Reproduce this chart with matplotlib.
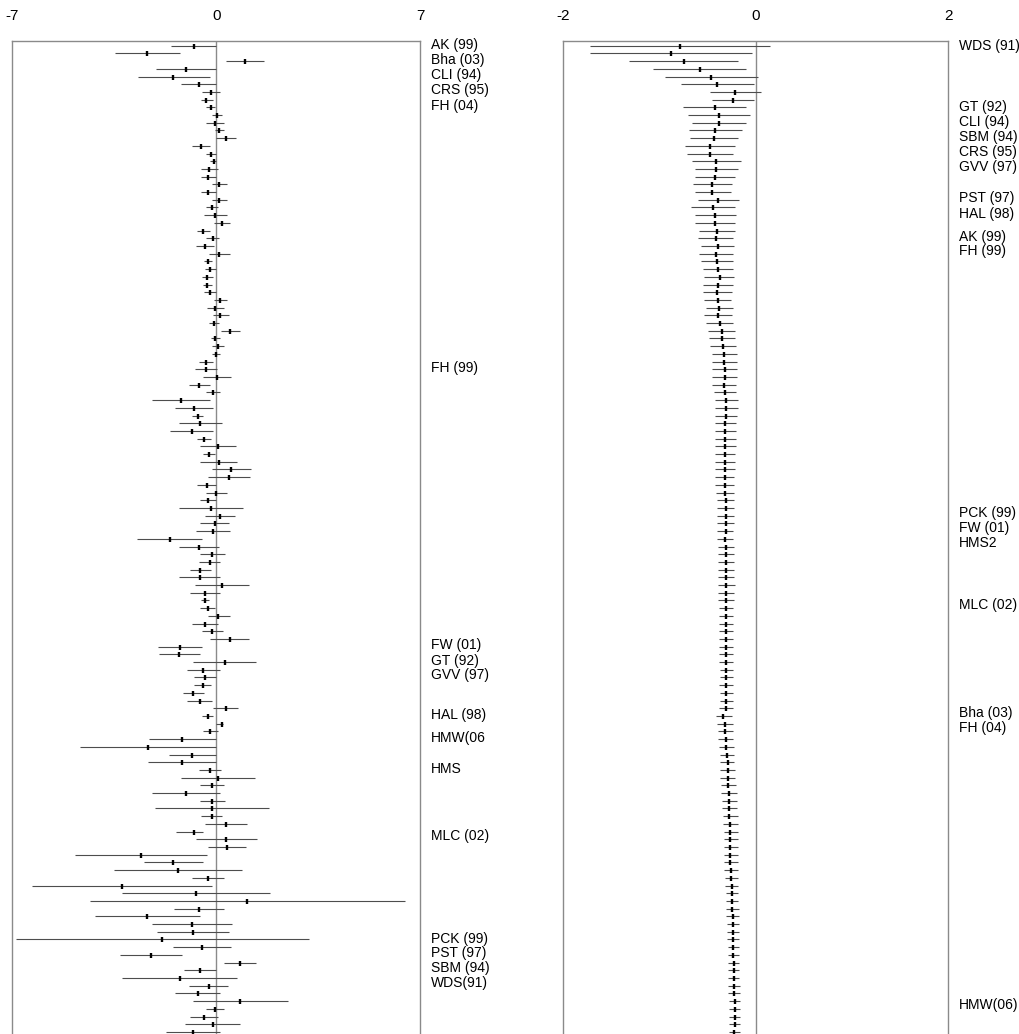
import matplotlib
import matplotlib.pyplot as plt
import numpy as np

matplotlib.use("Agg")

plt.rcParams.update({
    "font.family": ["Liberation Sans", "DejaVu Sans"],
    "figure.facecolor": "white",
    "axes.facecolor": "white",
})

# ---- left panel: per-row estimate with lower / upper limit ----
left_est = [
    -0.78, -2.39, 0.97, -1.05, -1.48, -0.59, -0.19, -0.34, -0.17, 0.02,
    -0.05, 0.08, 0.34, -0.54, -0.18, -0.09, -0.24, -0.27, 0.09, -0.27,
    0.08, -0.15, -0.03, 0.21, -0.45, -0.13, -0.40, 0.09, -0.29, -0.21,
    -0.31, -0.31, -0.23, 0.11, -0.05, 0.14, -0.09, 0.48, -0.05, 0.05,
    0.00, -0.37, -0.35, 0.02, -0.58, -0.11, -1.21, -0.78, -0.64, -0.55,
    -0.85, -0.43, 0.06, -0.26, 0.08, 0.51, 0.43, -0.33, 0.00, -0.30,
    -0.19, 0.13, -0.06, -0.11, -1.60, -0.59, -0.14, -0.23, -0.56, -0.57,
    0.19, -0.40, -0.38, -0.30, 0.07, -0.38, -0.14, 0.46, -1.25, -1.28,
    0.29, -0.45, -0.40, -0.47, -0.79, -0.57, 0.32, -0.30, 0.19, -0.21,
    -1.17, -2.34, -0.82, -1.18, -0.21, 0.05, -0.15, -1.04, -0.14, -0.16,
    -0.16, 0.33, -0.75, 0.34, 0.35, -2.58, -1.49, -1.32, -0.30, -3.25,
    -0.70, 1.06, -0.61, -2.37, -0.83, -0.80, -1.85, -0.49, -2.23, 0.80,
    -0.56, -1.26, -0.26, -0.64, 0.82, -0.05, -0.41, -0.13, -0.79,
]
left_lo = [
    -1.54, -3.49, 0.32, -2.08, -2.69, -1.20, -0.49, -0.54, -0.34, -0.14,
    -0.34, -0.06, 0.00, -0.83, -0.34, -0.21, -0.51, -0.53, -0.16, -0.51,
    -0.16, -0.35, -0.42, -0.08, -0.67, -0.34, -0.71, -0.26, -0.43, -0.40,
    -0.50, -0.46, -0.43, -0.09, -0.32, -0.13, -0.26, 0.16, -0.19, -0.16,
    -0.14, -0.61, -0.74, -0.46, -0.94, -0.34, -2.20, -1.43, -0.85, -1.29,
    -1.59, -0.67, -0.56, -0.47, -0.55, -0.16, -0.29, -0.65, -0.37, -0.57,
    -1.28, -0.39, -0.55, -0.69, -2.71, -1.27, -0.57, -0.58, -0.91, -1.28,
    -0.74, -0.91, -0.51, -0.55, -0.30, -0.82, -0.50, -0.21, -2.01, -1.98,
    -0.80, -1.01, -0.78, -0.77, -1.14, -1.02, -0.11, -0.48, 0.00, -0.46,
    -2.32, -4.69, -1.62, -2.36, -0.59, -1.22, -0.57, -2.20, -0.57, -2.12,
    -0.53, -0.39, -1.40, -0.69, -0.30, -4.84, -2.49, -3.51, -0.85, -6.32,
    -3.24, -4.32, -1.45, -4.16, -2.20, -2.05, -6.86, -1.48, -3.30, 0.25,
    -1.12, -3.24, -0.93, -1.41, -0.80, -0.35, -0.89, -1.06, -1.74,
]
left_hi = [
    0.00, -1.26, 1.62, 0.00, -0.21, 0.00, 0.11, -0.11, -0.06, 0.21,
    0.25, 0.25, 0.66, -0.21, -0.02, 0.00, 0.05, -0.02, 0.35, -0.02,
    0.35, 0.07, 0.35, 0.46, -0.21, 0.09, -0.09, 0.48, -0.14, 0.00,
    -0.11, -0.15, -0.02, 0.37, 0.25, 0.42, 0.08, 0.80, 0.11, 0.26,
    0.11, -0.11, 0.02, 0.51, -0.23, 0.14, -0.23, -0.11, -0.45, 0.19,
    -0.11, -0.18, 0.67, -0.06, 0.71, 1.20, 1.14, -0.02, 0.38, -0.02,
    0.90, 0.65, 0.45, 0.46, -0.49, 0.08, 0.30, 0.13, -0.19, 0.13,
    1.12, 0.13, -0.25, -0.05, 0.46, 0.07, 0.23, 1.11, -0.48, -0.57,
    1.37, 0.11, 0.00, -0.18, -0.41, -0.14, 0.75, -0.11, 0.23, 0.06,
    0.00, 0.00, 0.00, 0.00, 0.17, 1.33, 0.26, 0.11, 0.31, 1.80,
    0.21, 1.05, -0.46, 1.38, 1.01, -0.32, -0.47, 0.87, 0.25, -0.16,
    1.85, 6.46, 0.25, -0.57, 0.53, 0.45, 3.18, 0.50, -1.17, 1.35,
    0.00, 0.70, 0.39, 0.13, 2.45, 0.25, 0.07, 0.82, 0.14,
]
left_labels = ["AK (99)", "Bha (03)", "CLI (94)", "CRS (95)", "FH (04)", "FH (99)",
               "FW (01)", "GT (92)", "GVV (97)", "HAL (98)", "HMW(06", "HMS",
               "MLC (02)", "PCK (99)", "PST (97)", "SBM (94)", "WDS(91)"]
left_label_rows = [-0.1, 1.8, 3.8, 5.8, 7.8, 41.8, 77.8, 79.8, 81.7, 86.9, 89.8,
                   93.9, 102.6, 115.9, 117.8, 119.7, 121.6]

# ---- right panel: sorted estimates ----
right_est = [
    -0.786, -0.876, -0.748, -0.582, -0.464, -0.398, -0.211, -0.239, -0.429, -0.381,
    -0.384, -0.423, -0.436, -0.474, -0.478, -0.416, -0.412, -0.423, -0.457, -0.450,
    -0.388, -0.447, -0.423, -0.423, -0.405, -0.416, -0.395, -0.416, -0.402, -0.391,
    -0.377, -0.391, -0.402, -0.395, -0.381, -0.391, -0.371, -0.353, -0.350, -0.343,
    -0.329, -0.326, -0.322, -0.322, -0.326, -0.315, -0.305, -0.305, -0.308, -0.315,
    -0.315, -0.315, -0.315, -0.319, -0.319, -0.319, -0.319, -0.319, -0.315, -0.312,
    -0.312, -0.312, -0.312, -0.312, -0.315, -0.312, -0.308, -0.308, -0.308, -0.308,
    -0.308, -0.308, -0.308, -0.312, -0.312, -0.308, -0.312, -0.308, -0.308, -0.308,
    -0.308, -0.308, -0.308, -0.308, -0.308, -0.308, -0.308, -0.336, -0.315, -0.315,
    -0.312, -0.308, -0.301, -0.294, -0.291, -0.294, -0.287, -0.281, -0.277, -0.277,
    -0.277, -0.270, -0.267, -0.267, -0.263, -0.267, -0.263, -0.260, -0.253, -0.249,
    -0.249, -0.249, -0.246, -0.242, -0.239, -0.239, -0.235, -0.235, -0.232, -0.229,
    -0.229, -0.225, -0.222, -0.222, -0.218, -0.218, -0.218, -0.218, -0.222,
]
right_lo = [
    -1.721, -1.721, -1.313, -1.063, -0.942, -0.776, -0.474, -0.457, -0.758, -0.700,
    -0.661, -0.696, -0.686, -0.734, -0.713, -0.661, -0.634, -0.627, -0.655, -0.634,
    -0.599, -0.672, -0.630, -0.630, -0.592, -0.599, -0.565, -0.589, -0.568, -0.551,
    -0.533, -0.544, -0.544, -0.537, -0.519, -0.533, -0.513, -0.492, -0.488, -0.474,
    -0.457, -0.457, -0.450, -0.450, -0.450, -0.436, -0.426, -0.426, -0.419, -0.422,
    -0.419, -0.419, -0.419, -0.419, -0.419, -0.419, -0.419, -0.419, -0.412, -0.405,
    -0.405, -0.405, -0.405, -0.405, -0.405, -0.395, -0.388, -0.388, -0.388, -0.388,
    -0.388, -0.388, -0.388, -0.384, -0.384, -0.384, -0.384, -0.381, -0.381, -0.381,
    -0.381, -0.371, -0.377, -0.381, -0.377, -0.377, -0.384, -0.412, -0.398, -0.391,
    -0.388, -0.381, -0.371, -0.371, -0.367, -0.367, -0.364, -0.360, -0.350, -0.346,
    -0.343, -0.336, -0.332, -0.329, -0.329, -0.329, -0.329, -0.329, -0.319, -0.315,
    -0.312, -0.312, -0.308, -0.308, -0.301, -0.301, -0.298, -0.294, -0.291, -0.291,
    -0.287, -0.287, -0.284, -0.284, -0.281, -0.274, -0.274, -0.274, -0.274,
]
right_hi = [
    0.149, -0.035, -0.180, -0.097, 0.021, -0.017, 0.052, -0.017, -0.097, -0.059,
    -0.107, -0.145, -0.184, -0.218, -0.242, -0.156, -0.187, -0.215, -0.249, -0.260,
    -0.170, -0.215, -0.208, -0.215, -0.218, -0.239, -0.222, -0.242, -0.239, -0.239,
    -0.225, -0.242, -0.249, -0.253, -0.239, -0.246, -0.232, -0.215, -0.211, -0.204,
    -0.197, -0.197, -0.197, -0.197, -0.204, -0.201, -0.184, -0.184, -0.197, -0.204,
    -0.204, -0.208, -0.208, -0.218, -0.218, -0.218, -0.225, -0.225, -0.225, -0.225,
    -0.225, -0.225, -0.225, -0.232, -0.232, -0.229, -0.225, -0.225, -0.225, -0.225,
    -0.215, -0.225, -0.225, -0.232, -0.232, -0.232, -0.235, -0.235, -0.235, -0.235,
    -0.235, -0.239, -0.239, -0.239, -0.239, -0.239, -0.239, -0.249, -0.239, -0.239,
    -0.232, -0.225, -0.225, -0.225, -0.215, -0.211, -0.204, -0.197, -0.197, -0.197,
    -0.190, -0.190, -0.190, -0.190, -0.190, -0.190, -0.190, -0.190, -0.190, -0.180,
    -0.180, -0.180, -0.177, -0.177, -0.173, -0.173, -0.170, -0.170, -0.170, -0.170,
    -0.170, -0.170, -0.163, -0.163, -0.159, -0.159, -0.159, -0.159, -0.163,
]
right_labels = ["WDS (91)", "GT (92)", "CLI (94)", "SBM (94)", "CRS (95)", "GVV (97)",
                "PST (97)", "HAL (98)", "AK (99)", "FH (99)", "PCK (99)", "FW (01)",
                "HMS2", "MLC (02)", "Bha (03)", "FH (04)", "HMW(06)"]
right_label_rows = [0.0, 7.9, 9.9, 11.8, 13.8, 15.7, 19.8, 21.8, 24.8, 26.7,
                    60.7, 62.6, 64.6, 72.6, 86.6, 88.6, 124.5]

FRAME = "#8a8a8a"
CI_COLOR = "#4d4d4d"


def draw_panel(ax, est, lo, hi, labels, label_rows, lim):
    rows = np.arange(len(est))
    ax.hlines(rows, lo, hi, color=CI_COLOR, linewidth=0.8, zorder=2)
    ax.plot(est, rows, linestyle="none", marker="|", markersize=3.6,
            markeredgewidth=1.7, color="black", zorder=3)
    ax.axvline(0, color=FRAME, linewidth=1.0, zorder=1)

    ax.set_xlim(-lim, lim)
    ax.set_ylim(128.27, -0.571)
    ax.xaxis.tick_top()
    ax.set_xticks([-lim, 0, lim])
    ax.set_xticklabels([f"{-lim:g}", "0", f"{lim:g}"])
    ax.tick_params(axis="x", length=0, pad=13, labelsize=11)
    ax.set_yticks([])
    ax.spines["bottom"].set_visible(False)
    for side in ("top", "left", "right"):
        ax.spines[side].set_color(FRAME)
        ax.spines[side].set_linewidth(1.0)

    for text, r in zip(labels, label_rows):
        ax.annotate(text, xy=(1, r), xycoords=("axes fraction", "data"),
                    xytext=(7.5, 0), textcoords="offset points",
                    ha="left", va="center", fontsize=10, annotation_clip=False)


fig = plt.figure(figsize=(10.2, 10.34), dpi=100)
ax_left = fig.add_axes([12.3 / 1020, 0, 408 / 1020, 0.96006])
ax_right = fig.add_axes([563.3 / 1020, 0, 385 / 1020, 0.96006])

draw_panel(ax_left, left_est, left_lo, left_hi, left_labels, left_label_rows, 7)
draw_panel(ax_right, right_est, right_lo, right_hi, right_labels, right_label_rows, 2)

fig.savefig("out.png", dpi=100)
plt.close(fig)
